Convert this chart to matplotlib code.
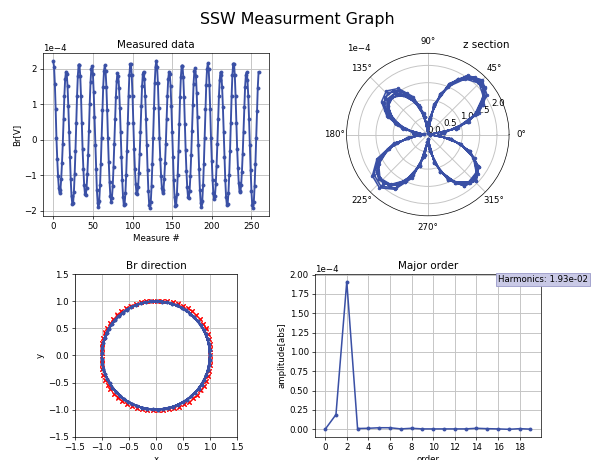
import numpy as np
import matplotlib
matplotlib.use("Agg")
import matplotlib.pyplot as plt

br_measured = [
    2.21, 2.05, 1.58, 0.88, 0.05, -0.53, -1.01, -1.35, -1.49, -1.41, -1.11, -0.66, -0.11,
    0.60, 1.24, 1.71, 1.92, 1.85, 1.51, 0.94, 0.23, -0.48, -1.11, -1.58, -1.81, -1.78, -1.48, -0.97, -0.31,
    0.47, 1.23, 1.81, 2.12, 2.12, 1.81, 1.23, 0.47, -0.27, -0.83, -1.28, -1.53, -1.56, -1.36, -0.96, -0.42,
    0.25, 1.02, 1.63, 2.00, 2.08, 1.85, 1.35, 0.65, -0.14, -0.83, -1.41, -1.77, -1.88, -1.71, -1.28, -0.67,
    0.05, 0.84, 1.50, 1.94,
    2.10, 1.94, 1.50, 0.84, 0.05, -0.62, -1.18, -1.58, -1.74, -1.64, -1.30, -0.77, -0.13,
    0.58, 1.21, 1.66, 1.87, 1.80, 1.47, 0.91, 0.23, -0.49, -1.13, -1.60, -1.84, -1.81, -1.50, -0.98, -0.31,
    0.47, 1.23, 1.82, 2.13, 2.13, 1.82, 1.23, 0.47, -0.26, -0.82, -1.25, -1.51, -1.53, -1.34, -0.94, -0.41,
    0.23, 0.94, 1.51, 1.85, 1.92, 1.71, 1.24, 0.60, -0.14, -0.85, -1.44, -1.82, -1.93, -1.75, -1.31, -0.69,
    0.05, 0.89, 1.60, 2.06,
    2.23, 2.06, 1.60, 0.89, 0.05, -0.53, -1.01, -1.35, -1.49, -1.41, -1.11, -0.66, -0.11,
    0.60, 1.24, 1.71, 1.92, 1.85, 1.51, 0.94, 0.23, -0.49, -1.14, -1.62, -1.86, -1.83, -1.52, -0.99, -0.32,
    0.46, 1.21, 1.78, 2.09, 2.09, 1.78, 1.21, 0.46, -0.28, -0.88, -1.34, -1.61, -1.64, -1.43, -1.01, -0.44,
    0.24, 0.99, 1.58, 1.94, 2.02, 1.80, 1.31, 0.63, -0.14, -0.83, -1.41, -1.77, -1.88, -1.71, -1.28, -0.67,
    0.05, 0.86, 1.55, 2.00,
    2.16, 2.00, 1.55, 0.86, 0.05, -0.59, -1.14, -1.51, -1.67, -1.57, -1.25, -0.74, -0.12,
    0.59, 1.23, 1.69, 1.90, 1.83, 1.49, 0.93, 0.23, -0.49, -1.13, -1.60, -1.84, -1.81, -1.50, -0.98, -0.31,
    0.47, 1.24, 1.83, 2.15, 2.15, 1.83, 1.24, 0.47, -0.25, -0.79, -1.21, -1.45, -1.48, -1.28, -0.90, -0.39,
    0.23, 0.93, 1.49, 1.83, 1.90, 1.69, 1.23, 0.59, -0.14, -0.85, -1.44, -1.82, -1.93, -1.75, -1.31, -0.69,
    0.05, 0.82, 1.47, 1.91,
]

# harmonic amplitudes per order (units of 1e-4)
harm_order = list(range(20))
harm_amp = [0.0, 0.19, 1.91, 0.01, 0.013, 0.02, 0.02, 0.005, 0.013, 0.005,
            0.005, 0.005, 0.005, 0.005, 0.013, 0.008, 0.005, 0.0, 0.008, 0.002]
harm_text = "Harmonics: 1.93e-02"

polar_rticks = [0.0, 0.5, 1.0, 1.5, 2.0]

SAMPLES_PER_TURN = 32.5
LINE_COLOR = "#3a50a5"

br = np.array(br_measured) * 1e-4
idx = np.arange(len(br))
theta = np.pi / 4 + 2 * np.pi * idx / SAMPLES_PER_TURN
amp = np.array(harm_amp) * 1e-4

fig = plt.figure(figsize=(594 / 62, 7.42), dpi=62)
fig.subplots_adjust(left=0.0724, right=0.9103, top=0.8841, bottom=0.0507,
                    wspace=0.204, hspace=0.359)
fig.suptitle("SSW Measurment Graph", fontsize=18.5, y=0.975)

grid_kw = dict(color="#c4c4c4", linewidth=1.1)

# measured trace
ax1 = fig.add_subplot(2, 2, 1)
ax1.plot(idx, br, ".-", color=LINE_COLOR, linewidth=2.2, markersize=7)
ax1.ticklabel_format(axis="y", style="sci", scilimits=(-3, 4))
ax1.set_title("Measured data")
ax1.set_xlabel("Measure #")
ax1.set_ylabel("Br[V]")
ax1.grid(True, **grid_kw)

# polar view of the same data
ax2 = fig.add_subplot(2, 2, 2, projection="polar")
ax2.plot(theta, np.abs(br), ".-", color=LINE_COLOR, linewidth=1.8, markersize=6)
ax2.set_rticks(np.array(polar_rticks) * 1e-4)
ax2.set_rmax(2.35e-4)
ax2.yaxis.get_major_formatter().set_powerlimits((-3, 4))
ax2.set_title("z section", loc="right", y=1.0)
ax2.grid(True, **grid_kw)

# direction on the unit circle
ax3 = fig.add_subplot(2, 2, 3)
r_dir = 1 + 0.025 * np.abs(br_measured)
ax3.plot(r_dir * np.cos(theta), r_dir * np.sin(theta), "x", color="red",
         markersize=5, markeredgewidth=1.0)
ax3.plot(np.cos(theta), np.sin(theta), ".-", color=LINE_COLOR, linewidth=2.2, markersize=6)
ax3.set_xlim(-1.5, 1.5)
ax3.set_ylim(-1.5, 1.5)
ax3.set_aspect("equal")
ax3.set_title("Br direction")
ax3.set_xlabel("x")
ax3.set_ylabel("y")
ax3.grid(True, **grid_kw)

# harmonic content
ax4 = fig.add_subplot(2, 2, 4)
ax4.plot(harm_order, amp, ".-", color=LINE_COLOR, linewidth=1.8, markersize=7)
ax4.ticklabel_format(axis="y", style="sci", scilimits=(-3, 4))
ax4.set_xticks(range(0, 20, 2))
ax4.set_title("Major order")
ax4.set_xlabel("order")
ax4.set_ylabel("amplitude[abs]")
ax4.grid(True, **grid_kw)
ax4.text(0.81, 0.965, harm_text, transform=ax4.transAxes, va="center", ha="left",
         bbox=dict(boxstyle="square,pad=0.25", facecolor="#c9c9e6", edgecolor="#9c9cca"))

fig.savefig("out.png", dpi=62)
